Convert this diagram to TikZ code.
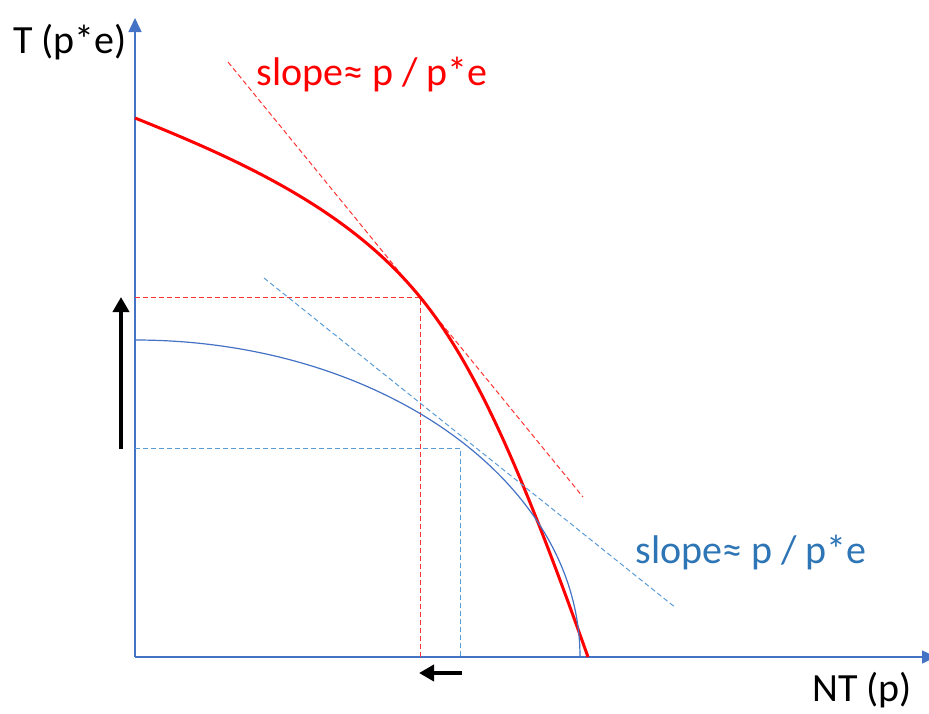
\documentclass[tikz,border=0pt]{standalone}
\usepackage{fontspec}
\setmainfont{Carlito}
\usetikzlibrary{arrows.meta}
\definecolor{axisblue}{RGB}{68,114,196}
\definecolor{lineblue}{RGB}{91,155,213}
\definecolor{textblue}{RGB}{46,117,182}
\tikzset{
  lbl/.style={inner sep=0pt, font=\fontsize{40}{48}\selectfont},
  guide/.style={line width=1pt, dash pattern=on 5pt off 3pt},
  shiftarrow/.style={line width=4pt, -{Triangle[width=16pt,length=15pt]}},
}
\begin{document}
\begin{tikzpicture}[x=1pt,y=-1pt]
        \useasboundingbox (0,0) rectangle (929,713);

        % AXES
        \coordinate (O)    at (135,657);
        \coordinate (ytop) at (135,18);
        \coordinate (xend) at (936,657);
        \draw[axisblue, line width=1.5pt, -{Triangle[width=13pt,length=14pt]}] (O) -- (ytop);
        \draw[axisblue, line width=1.5pt, -{Triangle[width=13pt,length=14pt]}] (O) -- (xend);
        \node[lbl] (tlabel)  at (70,42)  {T (p*e)};
        \node[lbl] (ntlabel) at (862,690) {NT (p)};

        % RED (after)
        \coordinate (redA) at (135,118);
        \coordinate (redP) at (420,297);
        \coordinate (redB) at (588,657);
        \coordinate (redY) at (135,297);
        \coordinate (redX) at (420,657);
        \coordinate (rt1)  at (228,62);
        \coordinate (rt2)  at (583,497);
        \draw[red!80, guide] (redY) -- (redP) -- (redX);
        \draw[red!80, guide] (rt1) -- (rt2);
        \draw[red, line width=3pt] (redA) .. controls (245,162) and (350,211) .. (redP)
          .. controls (480,370) and (528,489) .. (redB);
        \node[lbl, red] (redslope) at (372,75) {slope≈ p / p*e};

        % BLUE (before)
        \coordinate (blueA) at (135,340);
        \coordinate (blueP) at (460,448);
        \coordinate (blueY) at (135,448);
        \coordinate (blueX) at (460,657);
        \coordinate (bt1)   at (264,278);
        \coordinate (bt2)   at (676,608);
        \draw[lineblue, guide] (blueY) -- (blueP) -- (blueX);
        \draw[lineblue, guide] (bt1) -- (bt2);
        \draw[axisblue, line width=1.2pt] (blueA) arc[start angle=-90, end angle=0, x radius=445, y radius=317];
        \node[lbl, textblue] (blueslope) at (751,553) {slope≈ p / p*e};

        % SHIFTS
        \coordinate (up1)   at (121,449);
        \coordinate (up2)   at (121,297);
        \coordinate (left1) at (462,673);
        \coordinate (left2) at (419,673);
        \draw[shiftarrow] (up1) -- (up2);
        \draw[shiftarrow] (left1) -- (left2);
      \end{tikzpicture}
\end{document}
